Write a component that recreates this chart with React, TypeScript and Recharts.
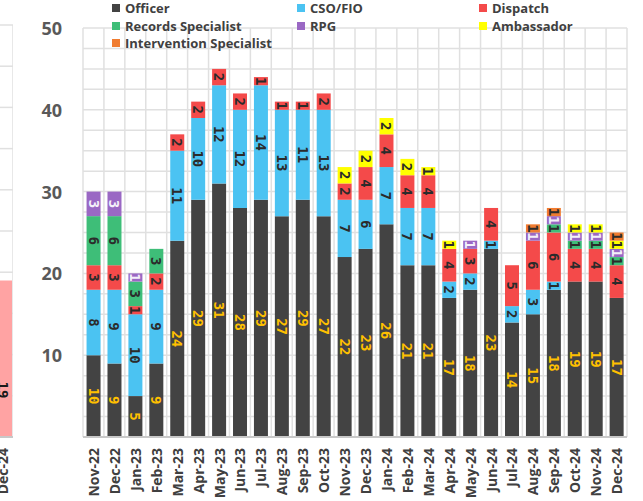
import React from 'react';
import { BarChart, Bar, XAxis, YAxis, CartesianGrid, LabelList } from 'recharts';

const months = [
  'Nov-22', 'Dec-22', 'Jan-23', 'Feb-23', 'Mar-23', 'Apr-23', 'May-23', 'Jun-23', 'Jul-23',
  'Aug-23', 'Sep-23', 'Oct-23', 'Nov-23', 'Dec-23', 'Jan-24', 'Feb-24', 'Mar-24', 'Apr-24',
  'May-24', 'Jun-24', 'Jul-24', 'Aug-24', 'Sep-24', 'Oct-24', 'Nov-24', 'Dec-24',
];
const officer = [10, 9, 5, 9, 24, 29, 31, 28, 29, 27, 29, 27, 22, 23, 26, 21, 21, 17, 18, 23, 14, 15, 18, 19, 19, 17];
const csoFio = [8, 9, 10, 9, 11, 10, 12, 12, 14, 13, 11, 13, 7, 6, 7, 7, 7, 2, 2, 1, 2, 3, 1, 0, 0, 0];
const dispatch = [3, 3, 1, 2, 2, 2, 2, 2, 1, 1, 1, 2, 2, 4, 4, 4, 4, 4, 3, 4, 5, 6, 6, 4, 4, 4];
const records = [6, 6, 3, 3, 0, 0, 0, 0, 0, 0, 0, 0, 0, 0, 0, 0, 0, 0, 0, 0, 0, 0, 1, 1, 1, 1];
const rpg = [3, 3, 1, 0, 0, 0, 0, 0, 0, 0, 0, 0, 0, 0, 0, 0, 0, 0, 1, 0, 0, 1, 1, 1, 1, 1];
const ambassador = [0, 0, 0, 0, 0, 0, 0, 0, 0, 0, 0, 0, 2, 2, 2, 2, 1, 1, 0, 0, 0, 0, 0, 1, 1, 1];
const intervention = [0, 0, 0, 0, 0, 0, 0, 0, 0, 0, 0, 0, 0, 0, 0, 0, 0, 0, 0, 0, 0, 1, 1, 0, 0, 1];

const yTicks = [0, 2.5, 5, 7.5, 10, 12.5, 15, 17.5, 20, 22.5, 25, 27.5, 30, 32.5, 35, 37.5, 40, 42.5, 45, 47.5, 50];
const yLabelled = [10, 20, 30, 40, 50];

// partial neighbouring chart at the left edge
const prevMonths = ['Dec-24'];
const prevValues = [19];

const series = [
  { key: 'officer', name: 'Officer', values: officer, color: '#434343', label: '#FFC000' },
  { key: 'cso', name: 'CSO/FIO', values: csoFio, color: '#4BC3F2', label: '#2B2B2B' },
  { key: 'dispatch', name: 'Dispatch', values: dispatch, color: '#F44A4A', label: '#2B2B2B' },
  { key: 'records', name: 'Records Specialist', values: records, color: '#3EBE78', label: '#2B2B2B' },
  { key: 'rpg', name: 'RPG', values: rpg, color: '#9A68C4', label: '#F4F0FA' },
  { key: 'ambassador', name: 'Ambassador', values: ambassador, color: '#FFFF00', label: '#2B2B2B' },
  { key: 'intervention', name: 'Intervention Specialist', values: intervention, color: '#F07C30', label: '#2B2B2B' },
];

const data = months.map((m, i) => {
  const row: Record<string, any> = { month: m };
  series.forEach((s) => {
    row[s.key] = s.values[i];
  });
  return row;
});

const prevData = prevMonths.map((m, i) => ({ month: m, value: prevValues[i] }));

const tickFont = 'Open Sans, sans-serif';
const labelFont = 'DejaVu Sans Mono, monospace';

const XTick = (props: any) => {
  const { x, y, payload } = props;
  return (
    <g transform={`translate(${x},${y + 11})`}>
      <text
        transform="rotate(-90)"
        x={0}
        y={0}
        textAnchor="end"
        dominantBaseline="central"
        fontFamily={tickFont}
        fontWeight={700}
        fontSize={14}
        fill="#404040"
      >
        {payload.value}
      </text>
    </g>
  );
};

const YTick = (props: any) => {
  const { x, y, payload } = props;
  if (!yLabelled.includes(payload.value)) return null;
  return (
    <text
      x={x}
      y={y}
      textAnchor="end"
      dominantBaseline="central"
      fontFamily={tickFont}
      fontWeight={700}
      fontSize={18}
      fill="#595959"
    >
      {payload.value}
    </text>
  );
};

const makeLabel = (color: string, fontSize = 14, shift = 0.5) => (props: any) => {
  const { x, y, width, height, value } = props;
  if (!value) return null;
  const cx = x + width / 2;
  const cy = y + height * shift;
  return (
    <text
      x={cx}
      y={cy}
      transform={`rotate(90, ${cx}, ${cy})`}
      textAnchor="middle"
      dominantBaseline="central"
      fontFamily={labelFont}
      fontWeight={700}
      fontSize={fontSize}
      fill={color}
    >
      {value}
    </text>
  );
};

const boundaryGenerator = (count: number) => (args: any) => {
  const { offset } = args;
  const out: number[] = [];
  for (let i = 0; i <= count; i++) out.push(offset.left + (i * offset.width) / count);
  return out;
};

const legendCols = [112, 297, 479];
const legendRows = [8, 26, 43];

export default function App() {
  return (
    <div style={{ position: 'absolute', left: 0, top: 0, width: 643, height: 501, background: '#fff', overflow: 'hidden' }}>
      <div style={{ position: 'absolute', left: -8, top: 0 }}>
        <BarChart width={21} height={501} data={prevData} margin={{ top: 25, right: 0, bottom: 0, left: 0 }} barSize={18}>
          <CartesianGrid
            stroke="#E0E0E0"
            strokeWidth={1.5}
            verticalCoordinatesGenerator={boundaryGenerator(1)}
          />
          <XAxis
            dataKey="month"
            height={64}
            tickSize={0}
            tickMargin={0}
            interval={0}
            stroke="#C8C8C8"
            strokeWidth={2}
            tick={<XTick />}
          />
          <YAxis hide domain={[0, 50]} ticks={yTicks} />
          <Bar dataKey="value" fill="#FFA3A3" isAnimationActive={false}>
            <LabelList dataKey="value" content={makeLabel('#1A1A1A', 14, 0.7)} />
          </Bar>
        </BarChart>
      </div>
      <div style={{ position: 'absolute', left: 0, top: 0 }}>
        <BarChart
          width={643}
          height={501}
          data={data}
          margin={{ top: 28, right: 16, bottom: 0, left: 0 }}
          barCategoryGap="17%"
        >
          <CartesianGrid
            stroke="#E0E0E0"
            strokeWidth={1.5}
            verticalCoordinatesGenerator={boundaryGenerator(months.length)}
          />
          <XAxis
            dataKey="month"
            height={64}
            tickSize={0}
            tickMargin={0}
            interval={0}
            stroke="#C8C8C8"
            strokeWidth={2}
            tick={<XTick />}
          />
          <YAxis
            width={83}
            domain={[0, 50]}
            ticks={yTicks}
            interval={0}
            axisLine={false}
            tickLine={false}
            tickSize={0}
            tickMargin={21}
            tick={<YTick />}
          />
          {series.map((s) => (
            <Bar key={s.key} dataKey={s.key} name={s.name} stackId="a" fill={s.color} isAnimationActive={false}>
              <LabelList dataKey={s.key} content={makeLabel(s.label)} />
            </Bar>
          ))}
        </BarChart>
      </div>
      {series.map((s, i) => {
        const col = i % 3;
        const row = Math.floor(i / 3);
        return (
          <div
            key={s.key}
            style={{
              position: 'absolute',
              left: legendCols[col],
              top: legendRows[row] - 9,
              height: 18,
              display: 'flex',
              alignItems: 'center',
              fontFamily: tickFont,
              fontWeight: 700,
              fontSize: 13,
              color: '#404040',
              whiteSpace: 'nowrap',
            }}
          >
            <span style={{ display: 'inline-block', width: 8, height: 8, background: s.color, marginRight: 5 }} />
            {s.name}
          </div>
        );
      })}
    </div>
  );
}
